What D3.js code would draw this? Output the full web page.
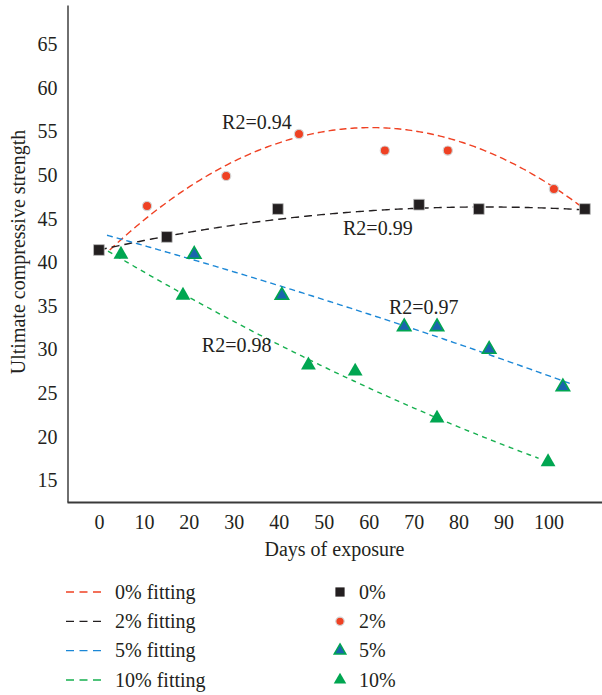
<!DOCTYPE html>
<html>
<head>
<meta charset="utf-8">
<script src="https://cdn.jsdelivr.net/npm/d3@7"></script>
<style>
body { margin: 0; background: #fff; }
</style>
</head>
<body>
<div id="main"></div>
<script>
// measured points (days, strength)
var days0 = [0, 15.1, 39.8, 71.2, 84.5, 108.1];
var strength0 = [41.4, 42.9, 46.1, 46.6, 46.1, 46.1];
var days2 = [10.7, 28.3, 44.5, 63.6, 77.6, 101.2];
var strength2 = [46.45, 49.9, 54.7, 52.8, 52.8, 48.4];
var days5 = [21.2, 40.7, 67.9, 75.2, 86.8, 103.2];
var strength5 = [40.9, 36.2, 32.6, 32.6, 30.0, 25.7];
var days10 = [4.9, 18.7, 46.6, 57.0, 75.2, 99.9];
var strength10 = [40.9, 36.2, 28.2, 27.5, 22.1, 17.1];
var pointNames = ['0%', '2%', '5%', '10%'];

// fitted curves y = c + b*x + a*x^2
var fitNames = ['0% fitting', '2% fitting', '5% fitting', '10% fitting'];
var fitCoef = [[40.22, 0.5026, -0.004149],
			   [41.40, 0.1151, -0.000671],
			   [43.35, -0.1419, -0.0002176],
			   [41.90, -0.3075, 0.000595]];
var fitStart = [2.4, 0, 1.8, 0.2];
var fitEnd = [108.1, 108.1, 105.3, 97.8];

var r2Labels = ['R2=0.94', 'R2=0.99', 'R2=0.97', 'R2=0.98'];
var r2Days = [27.4, 54.3, 64.5, 22.9];
var r2Values = [55.3, 43.1, 34.1, 29.7];

var xTicks = [0, 10, 20, 30, 40, 50, 60, 70, 80, 90, 100];
var yTicks = [15, 20, 25, 30, 35, 40, 45, 50, 55, 60, 65];

var fitColors = ['#ef4123', '#231f20', '#1b87d6', '#16b04f'];
var fitDash = ['7,4', '8,5', '6,4', '5,4.5'];
var serif = '"Liberation Serif", "DejaVu Serif", serif';

var svg = d3.select('#main').append('svg')
			.attr('width', 602)
			.attr('height', 695)
			.attr('font-family', serif);

var x = d3.scaleLinear().domain([-7.1, 111.9]).range([67, 602]);
var y = d3.scaleLinear().domain([12.5, 69.5]).range([502, 5]);

// axes
var yAxis = svg.append('g')
			   .attr('transform', 'translate(67.5,0)')
			   .call(d3.axisLeft(y).tickValues(yTicks).tickSize(0).tickPadding(10));
yAxis.attr('font-family', serif).attr('font-size', 20);
yAxis.select('.domain').attr('stroke', '#333').attr('stroke-width', 1.4);
yAxis.selectAll('text').attr('fill', '#231f20');

var xAxis = svg.append('g')
			   .attr('transform', 'translate(0,502)')
			   .call(d3.axisBottom(x).tickValues(xTicks).tickSize(0).tickPadding(12.5));
xAxis.attr('font-family', serif).attr('font-size', 20);
xAxis.select('.domain').attr('stroke', '#3a3a3a').attr('stroke-width', 2);
xAxis.selectAll('text').attr('fill', '#231f20');

svg.append('text')
   .attr('x', 334.5)
   .attr('y', 556)
   .attr('text-anchor', 'middle')
   .attr('font-size', 20)
   .attr('fill', '#231f20')
   .text('Days of exposure');

svg.append('text')
   .attr('transform', 'translate(25,252) rotate(-90)')
   .attr('text-anchor', 'middle')
   .attr('font-size', 20)
   .attr('fill', '#231f20')
   .text('Ultimate compressive strength');

// fitted lines
var line = d3.line()
			 .x(function(d) { return x(d[0]); })
			 .y(function(d) { return y(d[1]); });

function fitPoints(i) {
	var c = fitCoef[i];
	var xs = d3.range(fitStart[i], fitEnd[i], 0.5).concat([fitEnd[i]]);
	return xs.map(function(t) { return [t, c[0] + c[1]*t + c[2]*t*t]; });
}

for (var i = 0; i < fitNames.length; i++) {
	svg.append('path')
	   .attr('d', line(fitPoints(i)))
	   .attr('fill', 'none')
	   .attr('stroke', fitColors[i])
	   .attr('stroke-width', 1.4)
	   .attr('stroke-dasharray', fitDash[i]);
}

// R2 labels
for (var i = 0; i < r2Labels.length; i++) {
	svg.append('text')
	   .attr('x', x(r2Days[i]))
	   .attr('y', y(r2Values[i]))
	   .attr('font-size', 20)
	   .attr('fill', '#231f20')
	   .text(r2Labels[i]);
}

// markers
var square = d3.symbol().type(d3.symbolSquare);
var tri = d3.symbol().type(d3.symbolTriangle);

function zip(a, b) { return a.map(function(v, k) { return [v, b[k]]; }); }

svg.selectAll('.p2').data(zip(days2, strength2)).enter()
   .append('circle')
   .attr('cx', function(d) { return x(d[0]); })
   .attr('cy', function(d) { return y(d[1]); })
   .attr('r', 4.6)
   .attr('fill', '#ef4123')
   .attr('stroke', '#d4d4d4')
   .attr('stroke-width', 1.2);

svg.selectAll('.p5').data(zip(days5, strength5)).enter()
   .append('path')
   .attr('d', tri.size(78)())
   .attr('transform', function(d) { return 'translate(' + x(d[0]) + ',' + y(d[1]) + ')'; })
   .attr('fill', '#1a64ad')
   .attr('stroke', '#00a651')
   .attr('stroke-width', 1.6);

svg.selectAll('.p10').data(zip(days10, strength10)).enter()
   .append('path')
   .attr('d', tri.size(95)())
   .attr('transform', function(d) { return 'translate(' + x(d[0]) + ',' + y(d[1]) + ')'; })
   .attr('fill', '#00a651');

svg.selectAll('.p0').data(zip(days0, strength0)).enter()
   .append('path')
   .attr('d', square.size(115)())
   .attr('transform', function(d) { return 'translate(' + x(d[0]) + ',' + y(d[1]) + ')'; })
   .attr('fill', '#231f20')
   .attr('stroke', '#bdbdbd')
   .attr('stroke-width', 0.8);

// legend
var rowY = d3.scalePoint().domain(fitNames).range([592, 680]);
for (var i = 0; i < fitNames.length; i++) {
	var ly = rowY(fitNames[i]);
	svg.append('line')
	   .attr('x1', 66).attr('x2', 101)
	   .attr('y1', ly).attr('y2', ly)
	   .attr('stroke', fitColors[i])
	   .attr('stroke-width', 1.4)
	   .attr('stroke-dasharray', '8,5.5');
	svg.append('text')
	   .attr('x', 115)
	   .attr('y', ly)
	   .attr('dy', '0.33em')
	   .attr('font-size', 20)
	   .attr('fill', '#231f20')
	   .text(fitNames[i]);
	svg.append('text')
	   .attr('x', 359)
	   .attr('y', ly)
	   .attr('dy', '0.33em')
	   .attr('font-size', 20)
	   .attr('fill', '#231f20')
	   .text(pointNames[i]);
}

svg.append('path')
   .attr('d', square.size(85)())
   .attr('transform', 'translate(340,' + rowY(fitNames[0]) + ')')
   .attr('fill', '#231f20');
svg.append('circle')
   .attr('cx', 340).attr('cy', rowY(fitNames[1]))
   .attr('r', 4.2)
   .attr('fill', '#ef4123')
   .attr('stroke', '#d4d4d4')
   .attr('stroke-width', 1.2);
svg.append('path')
   .attr('d', tri.size(58)())
   .attr('transform', 'translate(340,' + rowY(fitNames[2]) + ')')
   .attr('fill', '#1a64ad')
   .attr('stroke', '#00a651')
   .attr('stroke-width', 1.5);
svg.append('path')
   .attr('d', tri.size(68)())
   .attr('transform', 'translate(340,' + rowY(fitNames[3]) + ')')
   .attr('fill', '#00a651');
</script>
</body>
</html>
